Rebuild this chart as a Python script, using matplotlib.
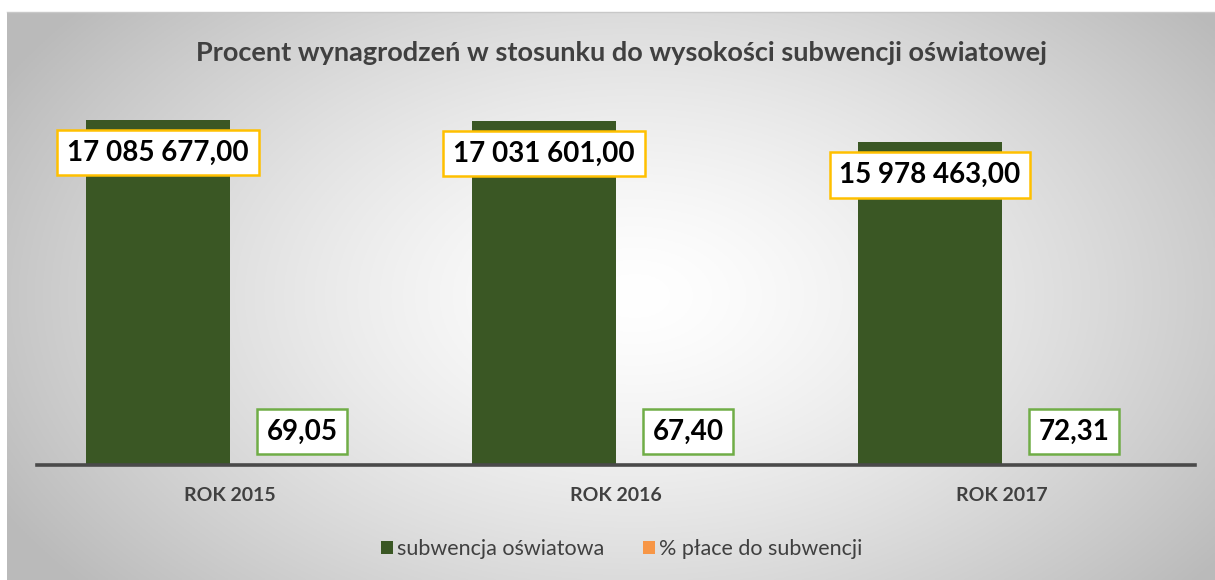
import numpy as np
import matplotlib
matplotlib.use("Agg")
import matplotlib.pyplot as plt
from matplotlib.patches import Patch

categories = ["ROK 2015", "ROK 2016", "ROK 2017"]
subwencja = [17085677.00, 17031601.00, 15978463.00]
procent = [69.05, 67.40, 72.31]
series_names = ["subwencja oświatowa", "% płace do subwencji"]
title = "Procent wynagrodzeń w stosunku do wysokości subwencji oświatowej"

GREEN = "#3A5724"
ORANGE = "#F79646"
GREY_TXT = "#404040"

plt.rcParams['font.family'] = ['Lato', 'DejaVu Sans']

W, H = 1215, 580
fig = plt.figure(figsize=(W / 100, H / 100), dpi=100)
fig.patch.set_facecolor("white")

# gradient background
bg = fig.add_axes([7 / W, 0, 1 - 7 / W, (H - 12) / H])
yy, xx = np.mgrid[0:1:300j, 0:1:600j]
cx, cy = 0.52, 0.5
r = np.sqrt(((xx - cx) / 0.6) ** 2 + ((yy - cy) / 0.8) ** 2)
r = np.clip(r, 0, 1)
val = 1.0 - 0.27 * r ** 1.4
img = np.dstack([val, val, val])
bg.imshow(img, aspect="auto", extent=[0, 1, 0, 1], origin="lower")
bg.set_axis_off()
fig.add_artist(plt.Line2D([7 / W, 1], [(H - 12) / H, (H - 12) / H], color="#c8c8c8", lw=1))

ax = fig.add_axes([37 / W, 1 - 465 / H, (1195 - 37) / W, 345 * 20 / 17.0857 / H])
ax.set_facecolor("none")
x = np.arange(len(categories))
w = 144 / 386
ax.bar(x - w / 2, subwencja, w, color=GREEN, label=series_names[0])
ax.bar(x + w / 2, procent, w, color=ORANGE, label=series_names[1])
ax.set_xlim(-0.5, 2.5)
ax.set_ylim(0, 20000000)
for s in ["top", "right", "left"]:
    ax.spines[s].set_visible(False)
ax.spines["bottom"].set_color("#4a4a4a")
ax.spines["bottom"].set_linewidth(2.6)
ax.set_yticks([])
ax.set_xticks(x)
ax.set_xticklabels(categories, fontsize=14, fontweight="bold", color=GREY_TXT)
ax.tick_params(axis="x", length=0, pad=16)


def fmt(v):
    s = f"{v:,.2f}"
    return s.replace(",", " ").replace(".", ",")


for xi, v in zip(x, subwencja):
    ax.annotate(fmt(v), (xi - w / 2, v), xytext=(0, -23.5), textcoords="offset points",
                ha="center", va="center", fontsize=20, fontweight="bold", color="black",
                bbox=dict(boxstyle="square,pad=0.35", fc="white", ec="#FFC000", lw=1.8))
for xi, v in zip(x, procent):
    ax.annotate(fmt(v), (xi + w / 2, 0), xytext=(0, 24), textcoords="offset points",
                ha="center", va="center", fontsize=20, fontweight="bold", color="black",
                bbox=dict(boxstyle="square,pad=0.35", fc="white", ec="#70AD47", lw=1.8))

fig.text(621 / W, 1 - 53 / H, title, ha="center", va="center", fontsize=19.5,
         fontweight="bold", color=GREY_TXT)

handles = [Patch(facecolor=GREEN), Patch(facecolor=ORANGE)]
leg = fig.legend(handles, series_names, loc="center", bbox_to_anchor=(622 / W, 1 - 549 / H),
                 ncol=2, frameon=False, fontsize=15.5, handlelength=0.55, handleheight=0.55,
                 handletextpad=0.2, columnspacing=1.8)
for t in leg.get_texts():
    t.set_color(GREY_TXT)

fig.savefig("out.png", dpi=100)
